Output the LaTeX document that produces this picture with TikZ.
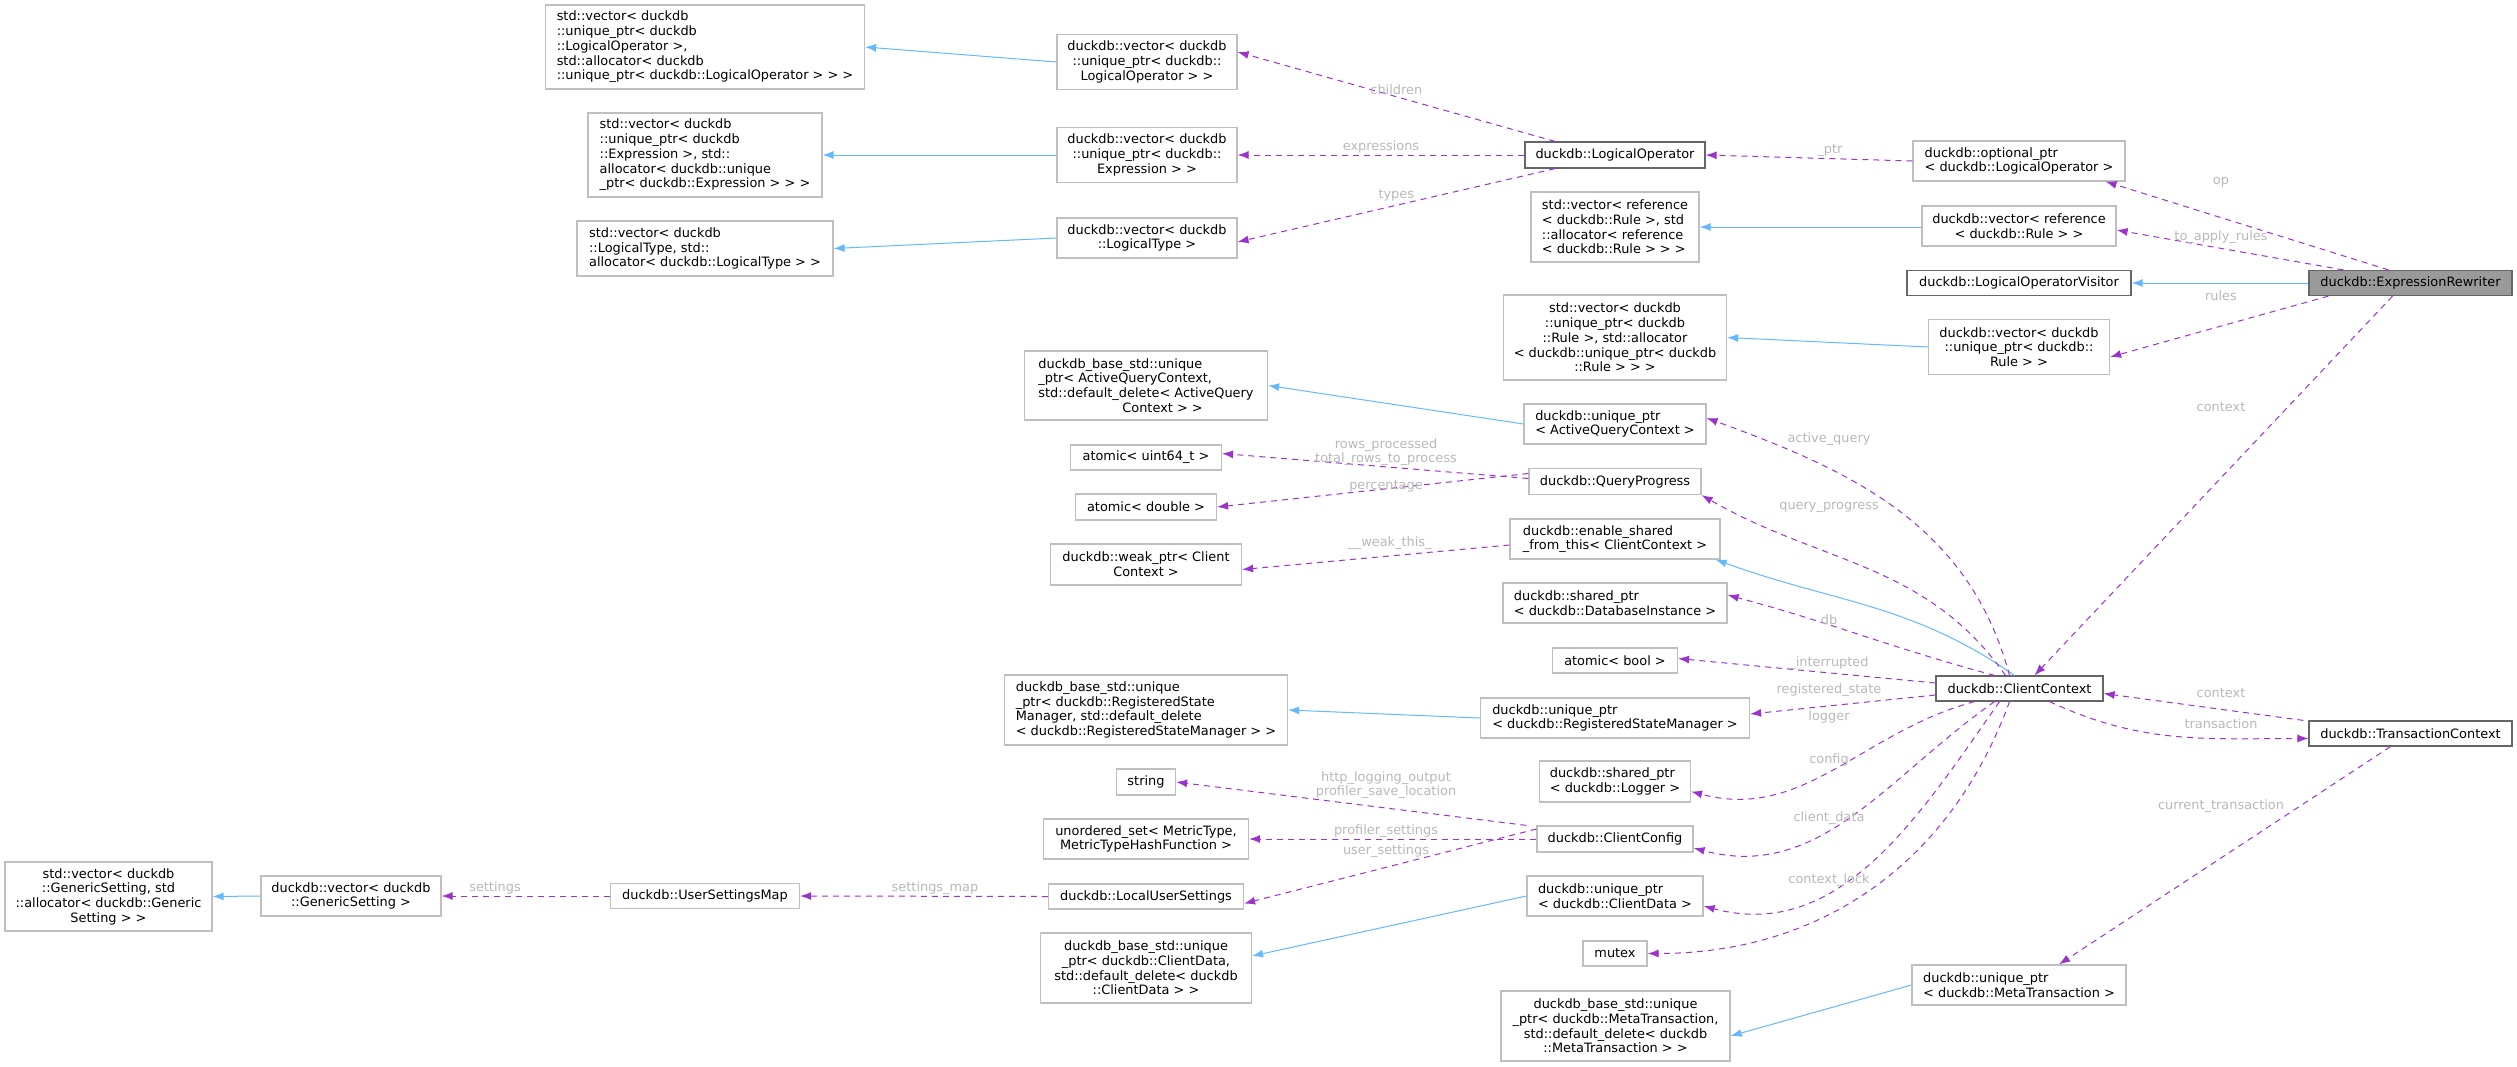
\documentclass[tikz,border=0pt]{standalone}
\usepackage{fontspec}
\setmainfont{DejaVu Sans}
\usetikzlibrary{arrows.meta}
\definecolor{edgeP}{HTML}{9A32CD}
\definecolor{edgeB}{HTML}{63B8FF}
\definecolor{lbl}{HTML}{B8B8B8}
\definecolor{bd}{HTML}{BFBFBF}
\definecolor{bdd}{HTML}{666666}
\begin{document}
\begin{tikzpicture}[x=1pt,y=-1pt,
  every node/.style={font=\fontsize{12.9}{14.7}\selectfont, inner sep=0pt},
  box/.style={draw=bd, line width=1.2pt, fill=white, align=center, text=black},
  lbox/.style={box, align=left},
  dbox/.style={box, draw=bdd},
  lb/.style={text=lbl, align=center},
  mem/.style={draw=edgeP, line width=1pt, dash pattern=on 6pt off 5pt, -{Latex[length=11pt,width=8pt]}},
  inh/.style={draw=edgeB, line width=1pt, -{Latex[length=11pt,width=8pt]}},
  ]
\useasboundingbox (0,0) rectangle (2517,1066);
% left column
\node[lbox, minimum width=319, minimum height=84] (b1) at (705,47) {std::vector< duckdb\\::unique\_ptr< duckdb\\::LogicalOperator >,\\ std::allocator< duckdb\\::unique\_ptr< duckdb::LogicalOperator > > >};
\node[lbox, minimum width=234, minimum height=84] (b2) at (705,155) {std::vector< duckdb\\::unique\_ptr< duckdb\\::Expression >, std::\\allocator< duckdb::unique\\\_ptr< duckdb::Expression > > >};
\node[lbox, minimum width=256, minimum height=55] (b3) at (705,248.5) {std::vector< duckdb\\::LogicalType, std::\\allocator< duckdb::LogicalType > >};
\node[box, minimum width=207, minimum height=69] (sg) at (108.5,896.5) {std::vector< duckdb\\::GenericSetting, std\\::allocator< duckdb::Generic\\Setting > >};
\node[box, minimum width=180, minimum height=40] (vg) at (351,896) {duckdb::vector< duckdb\\::GenericSetting >};
\node[box, minimum width=189, minimum height=25] (usm) at (705,896) {duckdb::UserSettingsMap};
% second column
\node[box, minimum width=180, minimum height=55] (vlo) at (1147,62) {duckdb::vector< duckdb\\::unique\_ptr< duckdb::\\LogicalOperator > >};
\node[box, minimum width=180, minimum height=55] (vex) at (1147,155) {duckdb::vector< duckdb\\::unique\_ptr< duckdb::\\Expression > >};
\node[box, minimum width=180, minimum height=40] (vty) at (1147,238) {duckdb::vector< duckdb\\::LogicalType >};
\node[lbox, minimum width=243, minimum height=69] (baqc) at (1146,385.5) {duckdb\_base\_std::unique\\\_ptr< ActiveQueryContext,\\ std::default\_delete< ActiveQuery\\\hphantom{xxxxxxxxxxx}Context > >};
\node[box, minimum width=151, minimum height=25] (au) at (1146,457.5) {atomic< uint64\_t >};
\node[box, minimum width=141, minimum height=26] (ad) at (1146,507) {atomic< double >};
\node[box, minimum width=191, minimum height=41] (wp) at (1146,564.5) {duckdb::weak\_ptr< Client\\Context >};
\node[lbox, minimum width=283, minimum height=70] (brsm) at (1146,710) {duckdb\_base\_std::unique\\\_ptr< duckdb::RegisteredState\\Manager, std::default\_delete\\< duckdb::RegisteredStateManager > >};
\node[box, minimum width=59, minimum height=26] (str) at (1146,782) {string};
\node[box, minimum width=205, minimum height=40] (us) at (1146,839) {unordered\_set< MetricType,\\MetricTypeHashFunction >};
\node[box, minimum width=195, minimum height=25] (lus) at (1146,896.5) {duckdb::LocalUserSettings};
\node[box, minimum width=211, minimum height=70] (bcd) at (1146,968) {duckdb\_base\_std::unique\\\_ptr< duckdb::ClientData,\\ std::default\_delete< duckdb\\::ClientData > >};
% third column
\node[dbox, minimum width=180, minimum height=26] (lo) at (1615,155) {duckdb::LogicalOperator};
\node[lbox, minimum width=168, minimum height=70] (srr) at (1615,227) {std::vector< reference\\< duckdb::Rule >, std\\::allocator< reference\\< duckdb::Rule > > >};
\node[box, minimum width=223, minimum height=85] (sur) at (1615,337.5) {std::vector< duckdb\\::unique\_ptr< duckdb\\::Rule >, std::allocator\\< duckdb::unique\_ptr< duckdb\\::Rule > > >};
\node[lbox, minimum width=182, minimum height=40] (uaqc) at (1615,424) {duckdb::unique\_ptr\\< ActiveQueryContext >};
\node[box, minimum width=172, minimum height=26] (qp) at (1615,481.5) {duckdb::QueryProgress};
\node[lbox, minimum width=210, minimum height=40] (es) at (1615,539) {duckdb::enable\_shared\\\_from\_this< ClientContext >};
\node[lbox, minimum width=224, minimum height=40] (sdb) at (1615,603) {duckdb::shared\_ptr\\< duckdb::DatabaseInstance >};
\node[box, minimum width=125, minimum height=25] (ab) at (1615,660.5) {atomic< bool >};
\node[lbox, minimum width=269, minimum height=40] (ursm) at (1615,718) {duckdb::unique\_ptr\\< duckdb::RegisteredStateManager >};
\node[lbox, minimum width=151, minimum height=41] (slog) at (1615,781.5) {duckdb::shared\_ptr\\< duckdb::Logger >};
\node[box, minimum width=156, minimum height=26] (cfg) at (1615,839) {duckdb::ClientConfig};
\node[lbox, minimum width=176, minimum height=40] (ucd) at (1615,896) {duckdb::unique\_ptr\\< duckdb::ClientData >};
\node[box, minimum width=64, minimum height=25] (mx) at (1615,953.5) {mutex};
\node[box, minimum width=229, minimum height=70] (bmt) at (1615.5,1026) {duckdb\_base\_std::unique\\\_ptr< duckdb::MetaTransaction,\\ std::default\_delete< duckdb\\::MetaTransaction > >};
% fourth column
\node[lbox, minimum width=212, minimum height=40] (olo) at (2019,161) {duckdb::optional\_ptr\\< duckdb::LogicalOperator >};
\node[box, minimum width=194, minimum height=40] (vrr) at (2019,226) {duckdb::vector< reference\\< duckdb::Rule > >};
\node[dbox, minimum width=224, minimum height=25] (lov) at (2019,283) {duckdb::LogicalOperatorVisitor};
\node[box, minimum width=181, minimum height=55] (vur) at (2019,347) {duckdb::vector< duckdb\\::unique\_ptr< duckdb::\\Rule > >};
\node[dbox, minimum width=167, minimum height=25] (cc) at (2019.5,688.5) {duckdb::ClientContext};
\node[lbox, minimum width=214, minimum height=40] (umt) at (2019,985) {duckdb::unique\_ptr\\< duckdb::MetaTransaction >};
% right column
\node[dbox, fill=bdd!66, minimum width=203, minimum height=25] (er) at (2410.5,283) {duckdb::ExpressionRewriter};
\node[dbox, minimum width=203, minimum height=25] (tc) at (2410.5,733.5) {duckdb::TransactionContext};
% inheritance edges
\draw[inh] (vlo.west) -- (b1.east);
\draw[inh] (vex.west) -- (b2.east);
\draw[inh] (vty.west) -- (b3.east);
\draw[inh] (vg.west) -- (sg.east);
\draw[inh] (srr.east -| vrr.west) -- (srr.east);
\draw[inh] (vur.west) -- (sur.east);
\draw[inh] (uaqc.west) -- (baqc.east);
\draw[inh] (ursm.west) -- (brsm.east);
\draw[inh] (ucd.west) -- ([yshift=12]bcd.east);
\draw[inh] (umt.west) -- ([yshift=-10]bmt.east);
\draw[inh] (er.west) -- (lov.east);
\draw[inh] ([xshift=-5]cc.north) to[out=145,in=-20] ([xshift=-5]es.south east);
% member edges
\draw[mem] ([xshift=-60]lo.north) -- ([yshift=10]vlo.east) node[pos=0.5,lb,above=2pt] (l1) {children};
\draw[mem] (lo.west) -- (vex.east) node[pos=0.5,lb,above=1pt] (l2) {expressions};
\draw[mem] ([xshift=-60]lo.south) -- ([yshift=-4]vty.east) node[pos=0.5,lb,above=4pt] (l3) {types};
\draw[mem] (olo.west) -- (lo.east);
\node[lb] (l4) at (1830,150) {\_ptr};
\draw[mem] ([xshift=80]er.north west) -- ([xshift=-20]olo.south east);
\node[lb] (l5) at (2221,182) {op};
\draw[mem] ([xshift=35]er.north west) -- ([yshift=-4]vrr.east);
\node[lb] (l6) at (2221,237.5) {to\_apply\_rules};
\draw[mem] ([xshift=20]er.south west) -- ([yshift=-10]vur.east);
\node[lb] (l7) at (2221,296) {rules};
\draw[mem] ([xshift=-18]er.south) -- ([xshift=15]cc.north);
\node[lb] (l8) at (2221,407) {context};
\draw[mem] ([xshift=-5]tc.north west) -- ([yshift=-5]cc.east);
\node[lb] (l9) at (2221,693) {context};
\draw[mem] ([xshift=30]cc.south) to[out=-25,in=180] ([yshift=-5]tc.west);
\node[lb] (l10) at (2221,724) {transaction};
\draw[mem] ([xshift=-20]tc.south) -- ([xshift=40]umt.north);
\node[lb] (l11) at (2221,806) {current\_transaction};
% ClientContext fan
\draw[mem] ([xshift=-10]cc.north) to[out=105,in=-20] ([yshift=6]uaqc.east);
\node[lb] (l12) at (1829,439) {active\_query};
\draw[mem] ([xshift=-14]cc.north) to[out=125,in=-30] (qp.south east);
\node[lb] (l13) at (1829,507) {query\_progress};
\draw[mem] ([xshift=-25]cc.north) to[out=165,in=-15] ([yshift=8]sdb.east);
\node[lb] (l14) at (1829,620) {db};
\draw[mem] (cc.west |- 0,683) -- ([yshift=2]ab.east);
\node[lb] (l15) at (1829,663) {\_interrupted};
\draw[mem] (cc.west |- 0,695) -- ([yshift=4]ursm.east);
\node[lb] (l16) at (1829,690) {registered\_state};
\draw[mem] ([xshift=-45]cc.south) to[out=195,in=-15] ([yshift=-10]slog.east);
\node[lb] (l17) at (1829,717) {logger};
\draw[mem] ([xshift=-25]cc.south) to[out=215,in=-15] ([yshift=-9]cfg.east);
\node[lb] (l18) at (1829,760) {config};
\draw[mem] ([xshift=-20]cc.south) to[out=235,in=-15] ([yshift=-10]ucd.east);
\node[lb] (l19) at (1829,818) {client\_data};
\draw[mem] ([xshift=-10]cc.south) to[out=250,in=0] (mx.east);
\node[lb] (l20) at (1829,880) {context\_lock};
% QueryProgress, enable_shared, ClientConfig
\draw[mem] ([yshift=3]qp.west) -- ([yshift=4]au.east);
\node[lb] (l21) at (1386,452) {rows\_processed\\total\_rows\_to\_process};
\draw[mem] ([yshift=8]qp.west) -- (ad.east);
\node[lb] (l22) at (1386,486) {percentage};
\draw[mem] ([yshift=-6]es.west) -- ([yshift=-5]wp.east);
\node[lb] (l23) at (1390,543) {\_\_weak\_this\_};
\draw[mem] ([xshift=-10]cfg.north west) -- (str.east);
\node[lb] (l24) at (1386,785) {http\_logging\_output\\profiler\_save\_location};
\draw[mem] (cfg.west) -- (us.east);
\node[lb] (l25) at (1386,831) {profiler\_settings};
\draw[mem] ([yshift=10]cfg.west) -- ([yshift=-7]lus.east);
\node[lb] (l26) at (1386,851) {user\_settings};
\draw[mem] (lus.west) -- (usm.east);
\node[lb] (l27) at (935,888) {settings\_map};
\draw[mem] (usm.west) -- (vg.east);
\node[lb] (l28) at (495,888) {settings};
\end{tikzpicture}
\end{document}
